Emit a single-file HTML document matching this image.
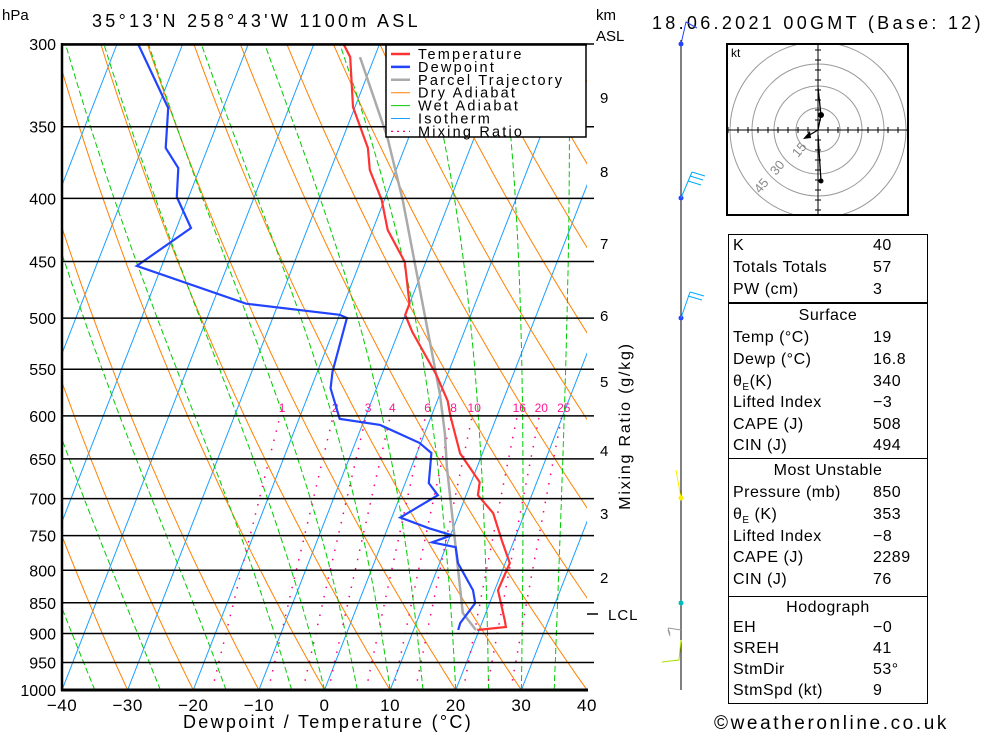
<!DOCTYPE html>
<html><head><meta charset="utf-8">
<style>
body{margin:0;background:#fff;}
svg{display:block;font-family:"Liberation Sans",sans-serif;}
.tb{position:absolute;left:728px;border:1px solid #000;font:16px "Liberation Sans",sans-serif;letter-spacing:0.5px;}
</style></head>
<body>
<div style="position:relative;width:1000px;height:733px;overflow:hidden">
<svg id="chart" width="1000" height="733" viewBox="0 0 1000 733"></svg>
</div>
<script>
const pressureLevels=[300,350,400,450,500,550,600,650,700,750,800,850,900,950,1000];
const xTicks=[-40,-30,-20,-10,0,10,20,30,40];
const tempP=[300,307.4,337.4,364.2,379.4,401.2,424.3,450.4,486.8,496.9,513,555.6,583.6,600,643.4,678.8,695.5,719.3,756.3,789.4,830.2,877.7,889.2,894.2];
const tempT=[-35.5,-33.7,-30.3,-25.6,-24.0,-20.4,-17.7,-13.2,-10.0,-10.0,-7.9,-1.7,1.6,2.9,6.6,11.3,11.8,15.2,18.1,20.7,20.5,23.3,23.9,19.7];
const dewP=[300,338,364.2,378,399,422.7,453.7,486.8,496.9,499.9,552.5,569.9,603.3,610.1,631,642.9,680.1,695.5,725.1,740,749.4,759.3,766.3,789.4,830.2,850.4,882.7,894.2];
const dewT=[-66.8,-58.4,-56.4,-53.3,-51.8,-47.8,-53.8,-34.9,-20.0,-18.7,-17.7,-17.0,-13.8,-7.3,-0.2,2.2,3.6,5.7,1.3,6.4,10.2,7.6,11.5,12.8,16.7,17.8,16.7,16.8];
const parcelP=[307.4,356.8,401.2,576,620,660,746,866.3,894.2];
const parcelT=[-32.2,-23.3,-17.2,0.0,3.1,5.4,10.4,16.5,19.5];
const mixRatios=[1,2,3,4,6,8,10,16,20,25];
const kmLabels=["9","8","7","6","5","4","3","2"];
const kmP=[331.2,380.1,434.8,496.9,562,639.3,719.3,810];

const NS="http://www.w3.org/2000/svg";
const svg=document.getElementById('chart');
const X0=62,PX=6.5625,SK=0.39;
function yP(p){return 44+646*Math.log(p/300)/Math.log(1000/300);}
function xT(T,y){return X0+(T+40)*PX+(690-y)*SK;}
function el(tag,attrs,parent){const e=document.createElementNS(NS,tag);for(const k in attrs)e.setAttribute(k,attrs[k]);(parent||svg).appendChild(e);return e;}
function txt(s,attrs,parent){const e=el('text',attrs,parent);e.textContent=s;return e;}
function pathFrom(ps,ts){let d='';for(let i=0;i<ps.length;i++){const y=yP(ps[i]);d+=(i?'L':'M')+xT(ts[i],y).toFixed(1)+','+y.toFixed(1);}return d;}

const defs=el('defs',{});
const cp=el('clipPath',{id:'plotclip'},defs);
el('rect',{x:62,y:44,width:525,height:646},cp);
const plot=el('g',{'clip-path':'url(#plotclip)'});



for(let T=-130;T<=40;T+=10){
  const l=el('line',{x1:xT(T,690),y1:690,x2:xT(T,44),y2:44,stroke:'#1a9fff','stroke-width':1},plot);
  
  
}
for(let th=-30;th<=220;th+=10){
  let d='';
  for(let p=1000;p>=300;p-=10){const T=(th+273.15)*Math.pow(p/1000,0.286)-273.15;const y=yP(p);d+=(p==1000?'M':'L')+xT(T,y).toFixed(1)+','+y.toFixed(1);}
  const e=el('path',{d:d,fill:'none',stroke:'#ff8000','stroke-width':1},plot);
  
  
}
function es(Tc){return 6.112*Math.exp(17.67*Tc/(Tc+243.5));}
const wetStarts=[-35,-25,-15,-5,0,5,10,15,20,25,30,35];
wetStarts.forEach(t0=>{
  let T=t0+273.15,d='';
  for(let p=1000;p>=300;p-=5){
    const y=yP(p);d+=(p==1000?'M':'L')+xT(T-273.15,y).toFixed(1)+','+y.toFixed(1);
    const e=es(T-273.15),rs=0.622*e/(p-e);
    const dTdp=(287*T+2.5e6*rs)/(p*(1005+(2.5e6*2.5e6*rs*0.622)/(287*T*T)));
    T-=dTdp*5;
  }
  const e=el('path',{d:d,fill:'none',stroke:'#00cc00','stroke-width':1,'stroke-dasharray':'6,3'},plot);
  
  
});
mixRatios.forEach(w=>{
  let d='';
  for(let p=1000;p>=600;p-=10){const e=w*p/(622+w);const L=Math.log(e/6.112);const Td=243.5*L/(17.67-L);const y=yP(p);d+=(p==1000?'M':'L')+xT(Td,y).toFixed(1)+','+y.toFixed(1);}
  const e=el('path',{d:d,fill:'none',stroke:'#ff0080','stroke-width':1.5,'stroke-dasharray':'1.5,8'},plot);
  
  
  const e6=w*600/(622+w),L6=Math.log(e6/6.112),Td6=243.5*L6/(17.67-L6);
  const t=txt(String(w),{x:xT(Td6,yP(600))+2,y:412,'font-size':12,fill:'#ff1493','text-anchor':'middle'},plot);
  
  
});
pressureLevels.forEach(p=>{
  const y=yP(p);
  const l=el('line',{x1:62,y1:y,x2:p==1000?587:594,y2:y,stroke:'#000','stroke-width':1.5});
  
  
  const t=txt(String(p),{x:56,y:y+6,'font-size':16,'text-anchor':'end'});
  
  
});
const parcel=el('path',{d:pathFrom(parcelP,parcelT),fill:'none',stroke:'#aaaaaa','stroke-width':2.5},plot);


const temp=el('path',{d:pathFrom(tempP,tempT),fill:'none',stroke:'#ff3333','stroke-width':2.2},plot);


const dew=el('path',{d:pathFrom(dewP,dewT),fill:'none',stroke:'#2244ff','stroke-width':2.2},plot);



el('line',{x1:62,y1:43,x2:62,y2:691,stroke:'#000','stroke-width':2.5});
el('line',{x1:61,y1:44.5,x2:587,y2:44.5,stroke:'#000','stroke-width':2.5});
el('line',{x1:61,y1:690,x2:588,y2:690,stroke:'#000','stroke-width':3});
xTicks.forEach(T=>{
  const t=txt(String(T).replace('-','\u2212'),{x:X0+(T+40)*PX,y:711,'font-size':17,'text-anchor':'middle','letter-spacing':0.5});
  
  
});
let t;
t=txt('Dewpoint / Temperature (\u00b0C)',{x:328,y:728,'font-size':18,'text-anchor':'middle','letter-spacing':2.3});

t=txt('hPa',{x:2,y:20,'font-size':15});

t=txt('35\u00b013\'N  258\u00b043\'W  1100m  ASL',{x:92,y:27,'font-size':18,'letter-spacing':3.3});

t=txt('18.06.2021  00GMT  (Base: 12)',{x:652,y:29,'font-size':18,'letter-spacing':3.3});

t=txt('km',{x:596,y:20,'font-size':15});

t=txt('ASL',{x:596,y:41,'font-size':15});

kmLabels.forEach((k,i)=>{
  const y=yP(kmP[i]);
  const tk=txt(k,{x:600,y:y+6,'font-size':15});
  
  
});
el('line',{x1:587,y1:614,x2:598,y2:614,stroke:'#000','stroke-width':1.5});
t=txt('LCL',{x:608,y:620,'font-size':15,'letter-spacing':1});

t=txt('Mixing Ratio (g/kg)',{x:0,y:0,'font-size':16,'text-anchor':'middle',transform:'translate(630,426) rotate(-90)','letter-spacing':1.8});


const lg=el('g',{});


el('rect',{x:386,y:45,width:200,height:92,fill:'#fff',stroke:'#000','stroke-width':1.5},lg);
const legItems=[['Temperature','#ff3333',2.5,''],['Dewpoint','#2244ff',2.5,''],['Parcel Trajectory','#aaaaaa',2.5,''],['Dry Adiabat','#ff8000',1,''],['Wet Adiabat','#00cc00',1,''],['Isotherm','#1a9fff',1,''],['Mixing Ratio','#ff0080',1.3,'2,4']];
legItems.forEach((it,i)=>{
  const y=54+i*12.9;
  const g=el('g',{},lg);
  
  
  el('line',{x1:391,y1:y,x2:410,y2:y,stroke:it[1],'stroke-width':it[2],'stroke-dasharray':it[3]},g);
  txt(it[0],{x:418,y:y+5,'font-size':14.5,'letter-spacing':2.2},g);
});

const wp=el('g',{});


el('line',{x1:681,y1:40,x2:681,y2:690,stroke:'#000','stroke-width':1},wp);
[[44,'#2244ff'],[198,'#2244ff'],[318,'#2244ff'],[498,'#ffee00'],[603,'#00bbbb']].forEach(d=>{
  el('circle',{cx:681,cy:d[0],r:2.5,fill:d[1]},wp);
});
el('path',{d:'M681,198 L692,172 M692,172 L705,176 M690,176 L703,180 M688,181 L701,185',stroke:'#00aaff',fill:'none'},wp);
el('path',{d:'M681,318 L690,292 M690,292 L704,296 M688,296 L702,300',stroke:'#00aaff',fill:'none'},wp);
el('path',{d:'M681,44 L686,22 L697,28',stroke:'#2244ff',fill:'none'},wp);
el('path',{d:'M681,498 L676,470',stroke:'#ffee00',fill:'none'},wp);
el('path',{d:'M681,630 L668,628 M668,628 L670,634 M668,630 L670,636',stroke:'#999',fill:'none'},wp);
el('path',{d:'M681,640 L679,660 L662,662',stroke:'#aadd00',fill:'none'},wp);

const hg=el('g',{});


el('rect',{x:727,y:44,width:181,height:171,fill:'#fff',stroke:'#000','stroke-width':2},hg);
const hc=el('clipPath',{id:'hclip'},defs);
el('rect',{x:728,y:45,width:179,height:169},hc);
const hin=el('g',{'clip-path':'url(#hclip)'},hg);
[22,44,66,88].forEach(r=>el('circle',{cx:818,cy:130,r:r,fill:'none',stroke:'#999','stroke-width':1},hin));
el('line',{x1:727,y1:130,x2:908,y2:130,stroke:'#000'},hin);
el('line',{x1:818,y1:44,x2:818,y2:215,stroke:'#000'},hin);
for(let i=-9;i<=9;i++){el('line',{x1:818+i*10,y1:127,x2:818+i*10,y2:133,stroke:'#000'},hin);el('line',{x1:815,y1:130+i*10,x2:821,y2:130+i*10,stroke:'#000'},hin);}
txt('kt',{x:731,y:57,'font-size':12},hg);
txt('15',{x:0,y:0,'font-size':13,fill:'#888',transform:'translate(798,158) rotate(-50)'},hg);
txt('30',{x:0,y:0,'font-size':13,fill:'#888',transform:'translate(776,176) rotate(-50)'},hg);
txt('45',{x:0,y:0,'font-size':13,fill:'#888',transform:'translate(760,194) rotate(-50)'},hg);
el('path',{d:'M818,88 L821,115 L818,130 L806,137 M821,181 L818,135',stroke:'#000',fill:'none','stroke-width':1.3},hg);
el('path',{d:'M803,139 L810,131 L811,138 Z',fill:'#000'},hg);
el('circle',{cx:821,cy:115,r:3,fill:'#000'},hg);
el('circle',{cx:821,cy:181,r:2.5,fill:'#000'},hg);

t=txt('\u00a9weatheronline.co.uk',{x:714,y:729,'font-size':19,'letter-spacing':2.6});

</script>

<div class="tb" style="top:234px;width:198px;height:67px;">
 <div style="position:absolute;left:4px;top:2px;">K</div><div style="position:absolute;left:144px;top:2px;">40</div>
 <div style="position:absolute;left:4px;top:24px;">Totals Totals</div><div style="position:absolute;left:144px;top:24px;">57</div>
 <div style="position:absolute;left:4px;top:46px;">PW (cm)</div><div style="position:absolute;left:144px;top:46px;">3</div>
</div>
<div class="tb" style="top:303px;width:198px;height:154px;">
 <div style="position:absolute;left:0;width:198px;text-align:center;top:3px;">Surface</div>
 <div style="position:absolute;left:4px;top:25px;">Temp (°C)</div><div style="position:absolute;left:144px;top:25px;">19</div>
 <div style="position:absolute;left:4px;top:47px;">Dewp (°C)</div><div style="position:absolute;left:144px;top:47px;">16.8</div>
 <div style="position:absolute;left:4px;top:69px;">θ<sub style="font-size:10px">E</sub>(K)</div><div style="position:absolute;left:144px;top:69px;">340</div>
 <div style="position:absolute;left:4px;top:90px;">Lifted Index</div><div style="position:absolute;left:144px;top:90px;">−3</div>
 <div style="position:absolute;left:4px;top:112px;">CAPE (J)</div><div style="position:absolute;left:144px;top:112px;">508</div>
 <div style="position:absolute;left:4px;top:133px;">CIN (J)</div><div style="position:absolute;left:144px;top:133px;">494</div>
</div>
<div class="tb" style="top:458px;width:198px;height:137px;">
 <div style="position:absolute;left:0;width:198px;text-align:center;top:3px;">Most Unstable</div>
 <div style="position:absolute;left:4px;top:25px;">Pressure (mb)</div><div style="position:absolute;left:144px;top:25px;">850</div>
 <div style="position:absolute;left:4px;top:47px;">θ<sub style="font-size:10px">E</sub> (K)</div><div style="position:absolute;left:144px;top:47px;">353</div>
 <div style="position:absolute;left:4px;top:69px;">Lifted Index</div><div style="position:absolute;left:144px;top:69px;">−8</div>
 <div style="position:absolute;left:4px;top:90px;">CAPE (J)</div><div style="position:absolute;left:144px;top:90px;">2289</div>
 <div style="position:absolute;left:4px;top:112px;">CIN (J)</div><div style="position:absolute;left:144px;top:112px;">76</div>
</div>
<div class="tb" style="top:596px;width:198px;height:106px;">
 <div style="position:absolute;left:0;width:198px;text-align:center;top:2px;">Hodograph</div>
 <div style="position:absolute;left:4px;top:22px;">EH</div><div style="position:absolute;left:144px;top:22px;">−0</div>
 <div style="position:absolute;left:4px;top:43px;">SREH</div><div style="position:absolute;left:144px;top:43px;">41</div>
 <div style="position:absolute;left:4px;top:64px;">StmDir</div><div style="position:absolute;left:144px;top:64px;">53°</div>
 <div style="position:absolute;left:4px;top:85px;">StmSpd (kt)</div><div style="position:absolute;left:144px;top:85px;">9</div>
</div>
</body></html>
